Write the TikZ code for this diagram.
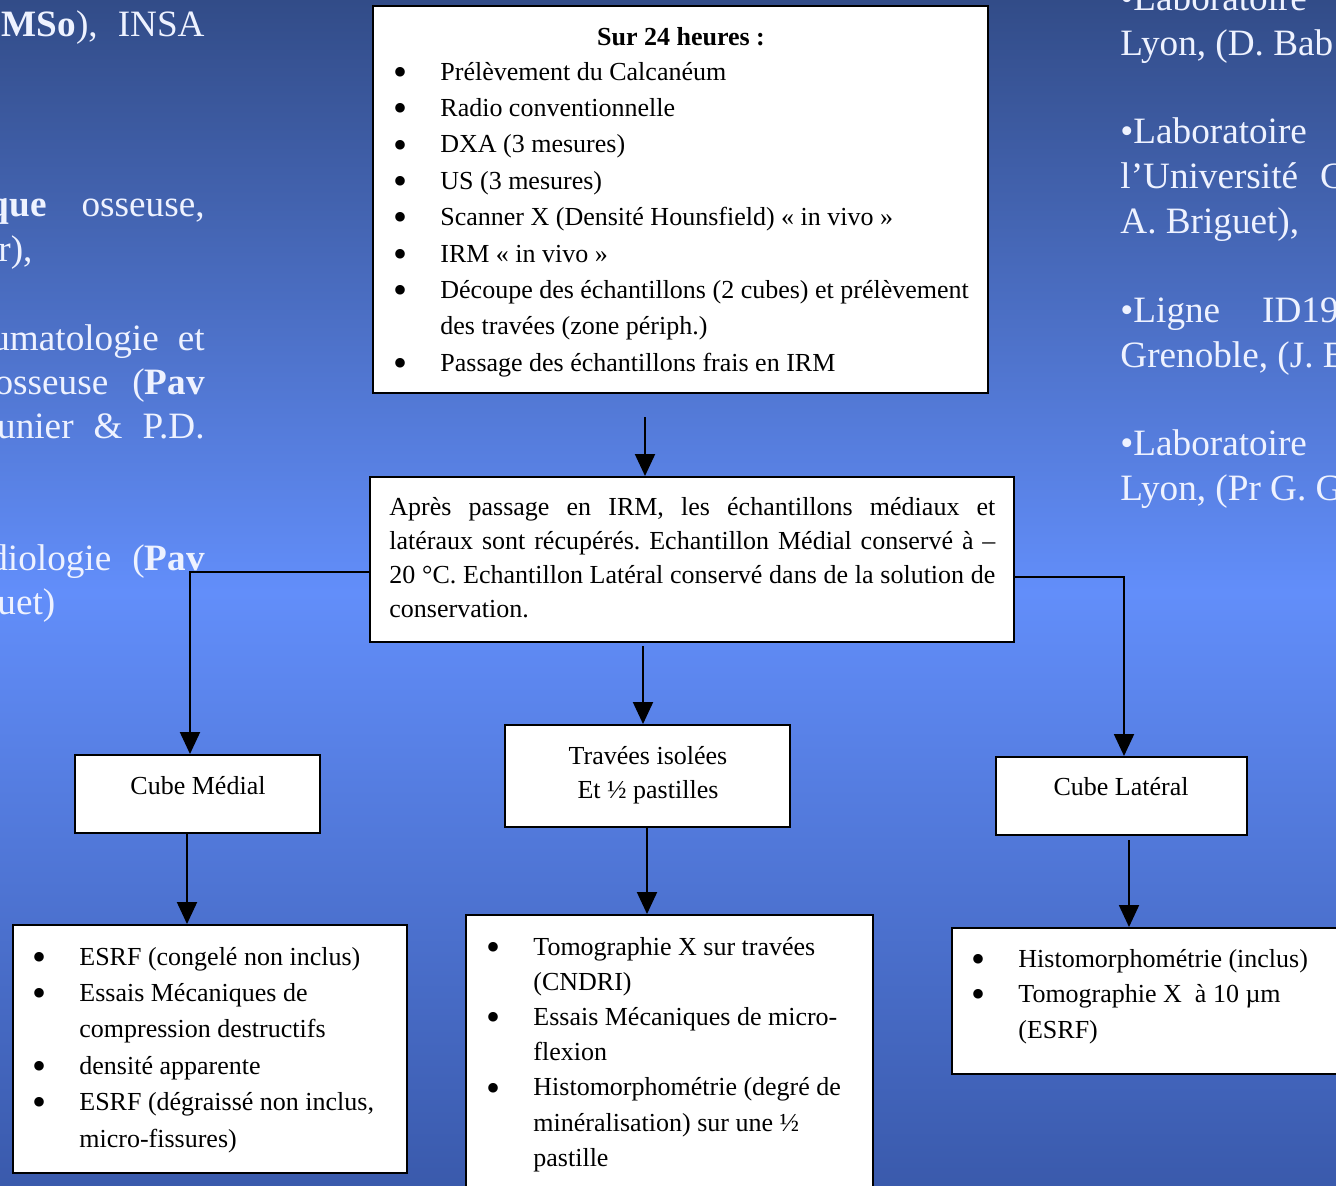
\documentclass[tikz,border=0pt]{standalone}
\usepackage{fontspec}
\setmainfont{Liberation Serif}
\usepackage{xcolor}
\usepackage{tikz}
\usetikzlibrary{arrows.meta,fit}

\definecolor{fondhaut}{RGB}{50,76,136}
\definecolor{fondmilieu}{RGB}{98,142,250}
\definecolor{fondbas}{RGB}{58,90,172}
\definecolor{blanc}{RGB}{238,242,255}

\newcommand{\puce}{\par\noindent\hangindent=22pt\hangafter=1\makebox[22pt][l]{\hspace{-1.5pt}\smash{\raisebox{-2.6pt}{\fontsize{20}{20}\selectfont\textbullet}}}}

\begin{document}
\frenchspacing
\begin{tikzpicture}[x=0.5pt,y=-0.5pt,
	boite/.style={draw,fill=white,line width=1pt,inner sep=0pt},
	fleche/.style={line width=1pt,-{Triangle[width=10pt,length=11pt]}},
	texte/.style={anchor=base west,inner sep=0pt,font=\fontsize{13}{18.2}\selectfont},
	titre/.style={anchor=base,inner sep=0pt,font=\fontsize{13}{17}\selectfont},
	marge/.style={inner sep=0pt,text=blanc,font=\fontsize{18.6}{22}\selectfont}]
	\useasboundingbox (0,0) rectangle (1336,1185);
	\clip (0,0) rectangle (1336,1185);
	\shade[top color=fondhaut,bottom color=fondbas,middle color=fondmilieu] (0,0) rectangle (1336,1185);
	%
	\node[marge,anchor=base east] (g1) at (205,36) {\textbf{MSo}),\hspace{10pt}INSA};
	\node[marge,anchor=base east] (g2) at (205,216) {\textbf{que}\hspace{17.5pt}osseuse,};
	\node[marge,anchor=base west] (g3) at (-2,261) {r),};
	\node[marge,anchor=base east] (g4) at (205,350) {umatologie\hspace{9.5pt}et};
	\node[marge,anchor=base east] (g5) at (205,394) {osseuse\hspace{12pt}(\textbf{Pav}};
	\node[marge,anchor=base east] (g6) at (205,438) {unier\hspace{10pt}\&\hspace{10pt}P.D.};
	\node[marge,anchor=base east] (g7) at (205,570) {diologie\hspace{10.5pt}(\textbf{Pav}};
	\node[marge,anchor=base west] (g8) at (-3,614) {uet)};
	%
	\node[marge,anchor=base west] (d1) at (1120,10) {\textbullet Laboratoire};
	\node[marge,anchor=base west] (d2) at (1120,55) {Lyon, (D. Bab};
	\node[marge,anchor=base west] (d3) at (1120,143) {\textbullet Laboratoire};
	\node[marge,anchor=base west] (d4) at (1120,188) {l’Université\hspace{11pt}C};
	\node[marge,anchor=base west] (d5) at (1120,233) {A. Briguet),};
	\node[marge,anchor=base west] (d6) at (1120,322) {\textbullet Ligne\hspace{21pt}ID19};
	\node[marge,anchor=base west] (d7) at (1120,367) {Grenoble, (J. B};
	\node[marge,anchor=base west] (d8) at (1120,455) {\textbullet Laboratoire};
	\node[marge,anchor=base west] (d9) at (1120,500) {Lyon, (Pr G. G};
	%
	\node[boite,fit={(373,6)(988,393)}] (jour) {};
	\node[boite,fit={(370,477)(1014,642)}] (irm) {};
	\node[boite,fit={(75,755)(320,833)}] (medial) {};
	\node[boite,fit={(505,725)(790,827)}] (travees) {};
	\node[boite,fit={(996,757)(1247,835)}] (lateral) {};
	\node[boite,fit={(13,925)(407,1173)}] (esrf) {};
	\node[boite,fit={(466,915)(873,1200)}] (tomo) {};
	\node[boite,fit={(952,928)(1350,1074)}] (histo) {};
	%
	\node[titre] (t0) at (681,45) {\bfseries Sur 24 heures :};
	\node[texte] (t1) at (396,80) {\parbox[t]{400pt}{\puce Prélèvement du Calcanéum
		\puce Radio conventionnelle
		\puce DXA (3 mesures)
		\puce US (3 mesures)
		\puce Scanner X (Densité Hounsfield) « in vivo »
		\puce IRM « in vivo »
		\puce Découpe des échantillons (2 cubes) et prélèvement\newline des travées (zone périph.)
		\puce Passage des échantillons frais en IRM}};
	\node[texte,font=\fontsize{13}{17}\selectfont] (t2) at (389,515) {\parbox[t]{303pt}{%
		\makebox[303pt][s]{Après passage en IRM, les échantillons médiaux et}\newline
		\makebox[303pt][s]{latéraux sont récupérés. Echantillon Médial conservé à –}\newline
		\makebox[303pt][s]{20 °C. Echantillon Latéral conservé dans de la solution de}\newline
		conservation.}};
	\node[titre] (t3) at (198,794) {Cube Médial};
	\node[titre] (t4) at (648,764) {\parbox[t]{140pt}{\centering Travées isolées\\Et ½ pastilles}};
	\node[titre] (t5) at (1121,795) {Cube Latéral};
	\node[texte] (t6) at (35,965) {\parbox[t]{400pt}{\puce ESRF (congelé non inclus)
		\puce Essais Mécaniques de\newline compression destructifs
		\puce densité apparente
		\puce ESRF (dégraissé non inclus,\newline micro-fissures)}};
	\node[texte,font=\fontsize{13}{17.6}\selectfont] (t7) at (489,955) {\parbox[t]{400pt}{\puce Tomographie X sur travées\newline (CNDRI)
		\puce Essais Mécaniques de micro-\newline flexion
		\puce Histomorphométrie (degré de\newline minéralisation) sur une ½\newline pastille}};
	\node[texte,font=\fontsize{13}{17.8}\selectfont] (t8) at (974,967) {\parbox[t]{400pt}{\puce Histomorphométrie (inclus)
		\puce Tomographie X \ à 10 µm\newline (ESRF)}};
	%
	\coordinate (a0) at (645,417);
	\coordinate (a1) at (190,572);
	\coordinate (a2) at (1124,577);
	\coordinate (a3) at (643,646);
	\coordinate (a4) at (187,0);
	\coordinate (a5) at (647,0);
	\coordinate (a6) at (1129,840);
	\draw[fleche] (a0) -- (a0 |- irm.north);
	\draw[fleche] (a1 -| irm.west) -| (a1 |- medial.north);
	\draw[fleche] (a2 -| irm.east) -| (a2 |- lateral.north);
	\draw[fleche] (a3) -- (a3 |- travees.north);
	\draw[fleche] (a4 |- medial.south) -- (a4 |- esrf.north);
	\draw[fleche] (a5 |- travees.south) -- (a5 |- tomo.north);
	\draw[fleche] (a6) -- (a6 |- histo.north);
\end{tikzpicture}
\end{document}
